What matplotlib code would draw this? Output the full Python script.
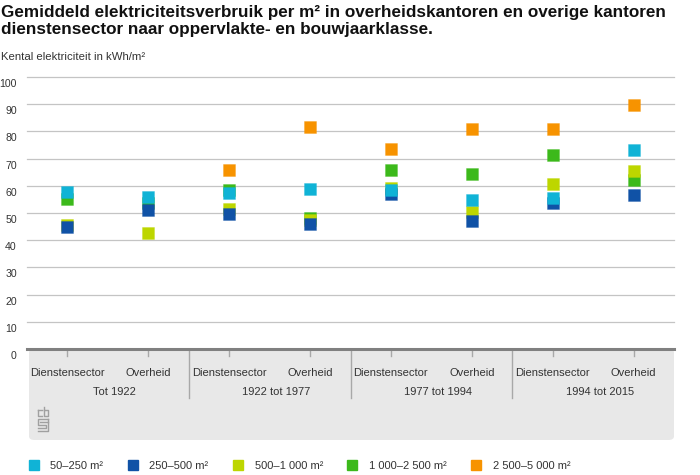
import matplotlib
matplotlib.use("Agg")
import matplotlib.pyplot as plt
import numpy as np
from matplotlib.transforms import blended_transform_factory, ScaledTranslation
from matplotlib.patches import FancyBboxPatch
from matplotlib.lines import Line2D

# ---------------- data ----------------
categories = ["Dienstensector", "Overheid"] * 4
groups = ["Tot 1922", "1922 tot 1977", "1977 tot 1994", "1994 tot 2015"]
series_labels = ["50–250 m²", "250–500 m²", "500–1 000 m²", "1 000–2 500 m²", "2 500–5 000 m²"]
s_50_250 = [57.8, 56.0, 57.2, 58.8, 58.6, 54.9, 55.6, 73.3]
s_250_500 = [44.7, 51.2, 49.7, 46.0, 56.9, 47.1, 53.6, 56.8]
s_500_1000 = [45.5, 42.6, 51.5, 47.6, 59.1, 50.2, 60.6, 65.4]
s_1000_2500 = [55.0, 53.7, 58.3, 48.0, 65.9, 64.5, 71.2, 62.3]
s_2500_5000 = [np.nan, np.nan, 65.8, 81.7, 73.6, 80.8, 80.9, 89.6]
y_ticks = [0, 10, 20, 30, 40, 50, 60, 70, 80, 90, 100]

colors = ["#10b3d6", "#1052a6", "#bdd600", "#3cb91b", "#f79300"]
series = [s_50_250, s_250_500, s_500_1000, s_1000_2500, s_2500_5000]

plt.rcParams["font.family"] = ["Liberation Sans", "DejaVu Sans"]
TXT = "#333333"

W, H = 700, 475
fig = plt.figure(figsize=(W / 100, H / 100), dpi=100)


def fx(px):
    return px / W


def fy(py):
    return 1 - py / H


left, right, top, bottom = 27, 674, 77, 349
ax = fig.add_axes([fx(left), fy(bottom), fx(right - left), (bottom - top) / H])
ax.set_xlim(-0.5, 7.5)
ax.set_ylim(0, 100)
for s in ax.spines.values():
    s.set_visible(False)
ax.set_facecolor("none")

# grid
for v in y_ticks[1:]:
    ax.axhline(v, color="#c4c4c4", lw=0.9, zorder=0, clip_on=False)

# y tick labels
ax.set_yticks(y_ticks)
ax.set_yticklabels([str(v) for v in y_ticks])
ax.tick_params(axis="y", length=0, pad=7.3, labelsize=7.6, labelcolor=TXT)
off = ScaledTranslation(0, -6 / 100, fig.dpi_scale_trans)
for lab in ax.get_yticklabels():
    lab.set_transform(lab.get_transform() + off)
ax.set_xticks([])

# scatter (reverse draw order: orange at bottom, cyan on top)
x = np.arange(len(categories))
for i in range(len(series) - 1, -1, -1):
    ax.scatter(x, series[i], marker="s", s=66, color=colors[i], linewidths=0.6,
               edgecolors=matplotlib.colors.to_rgba(colors[i], 0.35), zorder=3 + (4 - i))

# grey box below axis
box = FancyBboxPatch((fx(29), fy(440)), fx(674 - 29), (440 - 349) / H,
                     boxstyle="round,pad=0,rounding_size=0.008",
                     transform=fig.transFigure, facecolor="#e8e8e8", edgecolor="none", zorder=-1)
fig.patches.append(box)

# axis line
ax.axhline(0, color="#808080", lw=2.2, zorder=5, clip_on=False)

bt = blended_transform_factory(ax.transData, fig.transFigure)
# ticks
for xi in x:
    ax.add_line(Line2D([xi, xi], [fy(350), fy(356)], transform=bt, color="#a8a8a8", lw=1, clip_on=False))
for sep in [1.5, 3.5, 5.5]:
    ax.add_line(Line2D([sep, sep], [fy(350), fy(398)], transform=bt, color="#a8a8a8", lw=1, clip_on=False))

# category labels
for xi, c in zip(x, categories):
    ax.text(xi, fy(373), c, transform=bt, ha="center", va="center",
            fontsize=8.0, color=TXT, clip_on=False)
for gi, g in enumerate(groups):
    ax.text(2 * gi + 0.5 + 0.08, fy(392), g, transform=bt, ha="center", va="center",
            fontsize=8.0, color=TXT, clip_on=False)

# cbs logo (simple approximation)
lg = "#a0a0a0"
logo_lines = [
    [(38, 410), (38, 416), (42, 416)], [(38, 410), (42, 410)],
    [(44, 407), (44, 416), (48, 416), (48, 410), (44, 410)],
    [(48, 419), (38, 419), (38, 425), (46, 425), (46, 428), (38, 428)],
    [(48, 419), (48, 431), (38, 431)],
    [(40, 422), (48, 422)],
]
for pts in logo_lines:
    xs = [fx(p[0]) for p in pts]
    ys = [fy(p[1]) for p in pts]
    fig.add_artist(Line2D(xs, ys, transform=fig.transFigure, color=lg, lw=1.0))

# titles
fig.text(fx(1), fy(5), "Gemiddeld elektriciteitsverbruik per m² in overheidskantoren en overige kantoren\n"
         "dienstensector naar oppervlakte- en bouwjaarklasse.",
         ha="left", va="top", fontsize=12.3, fontweight="bold", color="#111111", linespacing=1.2)
fig.text(fx(1), fy(57), "Kental elektriciteit in kWh/m²", ha="left", va="center",
         fontsize=8.2, color=TXT)

# legend
leg_handles = [Line2D([], [], marker="s", ls="", color=c, markersize=7.2) for c in colors]
fig.legend(leg_handles, series_labels, loc="center left", bbox_to_anchor=(fx(28), fy(466)),
           ncol=5, frameon=False, borderpad=0, borderaxespad=0, handlelength=1.0,
           handletextpad=1.0, columnspacing=2.15, prop={"size": 8.0},
           labelcolor=TXT)

fig.savefig("out.png", dpi=100)
